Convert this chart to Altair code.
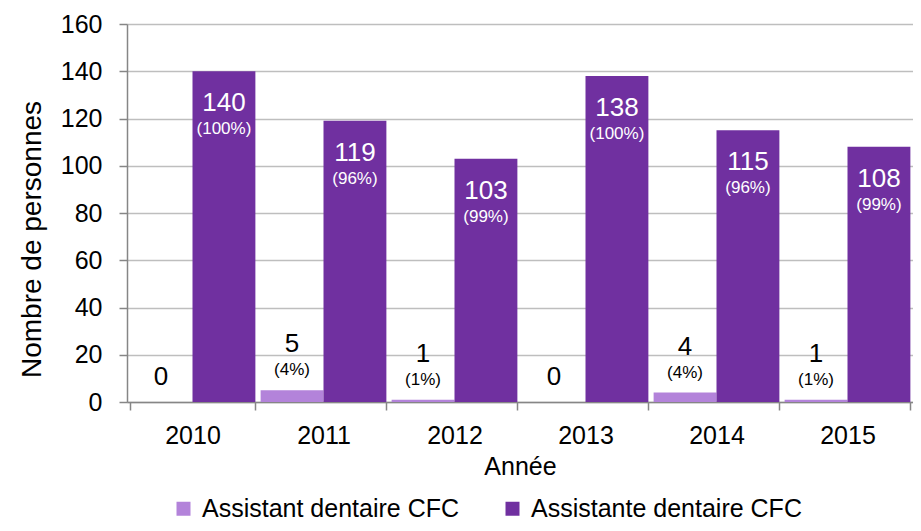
import altair as alt
import pandas as pd

years = ["2010", "2011", "2012", "2013", "2014", "2015"]
series_names = ["Assistant dentaire CFC", "Assistante dentaire CFC"]
assistant = [0, 5, 1, 0, 4, 1]
assistante = [140, 119, 103, 138, 115, 108]
assistant_pct = ["", "(4%)", "(1%)", "", "(4%)", "(1%)"]
assistante_pct = ["(100%)", "(96%)", "(99%)", "(100%)", "(96%)", "(99%)"]
colors = ["#B383DA", "#7030A0"]

rows = []
for i, y in enumerate(years):
    rows.append({"year": y, "series": series_names[0], "value": assistant[i], "pct": assistant_pct[i], "s": 0})
    rows.append({"year": y, "series": series_names[1], "value": assistante[i], "pct": assistante_pct[i], "s": 1})
df = pd.DataFrame(rows)

FONT = "Liberation Sans"

x_enc = alt.X(
    "year:N",
    title="Année",
    scale=alt.Scale(paddingInner=0.04, paddingOuter=0.02),
    axis=alt.Axis(
        labelAngle=0, labelFontSize=25, titleFontSize=25, titleFontWeight="normal",
        labelColor="black", titleColor="black", labelFont=FONT, titleFont=FONT,
        tickBand="extent", tickSize=8, tickColor="#868686", tickWidth=1.5,
        domainColor="#868686", domainWidth=1.5, labelPadding=13, titlePadding=6,
        grid=False,
    ),
)
xoff = alt.XOffset("series:N", sort=series_names, scale=alt.Scale(paddingInner=0, paddingOuter=0))
y_enc = alt.Y(
    "value:Q",
    title="Nombre de personnes",
    scale=alt.Scale(domain=[0, 160], nice=False),
    axis=alt.Axis(
        values=[0, 20, 40, 60, 80, 100, 120, 140, 160],
        labelFontSize=25, titleFontSize=28, titleFontWeight="normal",
        labelColor="black", titleColor="black", labelFont=FONT, titleFont=FONT,
        tickSize=8, tickColor="#868686", tickWidth=1.5,
        domainColor="#868686", domainWidth=1.5, labelPadding=17, titlePadding=14,
        titleY=215,
        gridColor="#BEBEBE", gridWidth=1.5,
    ),
)

bars = alt.Chart(df).mark_bar().encode(
    x=x_enc,
    xOffset=xoff,
    y=y_enc,
    color=alt.Color(
        "series:N",
        sort=series_names,
        scale=alt.Scale(domain=series_names, range=colors),
        legend=alt.Legend(
            title=None, orient="none", direction="horizontal",
            legendX=44, legendY=472,
            symbolType="square", symbolSize=196, symbolStrokeWidth=0,
            labelFontSize=25, labelFont=FONT, labelColor="black",
            labelOffset=6, columnPadding=40, labelLimit=400,
        ),
    ),
)

base = alt.Chart(df).encode(x=alt.X("year:N"), xOffset=xoff, y=alt.Y("value:Q"))

dark = base.transform_filter(alt.datum.s == 1)
dark_val = dark.mark_text(font=FONT, fontSize=26, color="white", baseline="middle", dy=32).encode(text="value:Q")
dark_pct = dark.mark_text(font=FONT, fontSize=17, color="white", baseline="middle", dy=58).encode(text="pct:N")

light = base.transform_filter((alt.datum.s == 0) & (alt.datum.value > 0))
light_val = light.mark_text(font=FONT, fontSize=26, color="black", baseline="middle", dy=-46).encode(text="value:Q")
light_pct = light.mark_text(font=FONT, fontSize=17, color="black", baseline="middle", dy=-20).encode(text="pct:N")

zero = base.transform_filter((alt.datum.s == 0) & (alt.datum.value == 0))
zero_val = zero.mark_text(font=FONT, fontSize=26, color="black", baseline="middle", dy=-25).encode(text="value:Q")

chart = alt.layer(bars, dark_val, dark_pct, light_val, light_pct, zero_val).properties(
    width=786,
    height=378,
    autosize=alt.AutoSizeParams(type="none"),
    padding={"left": 119, "top": 16, "right": 0, "bottom": 121},
).configure_view(fill="#EBDEF4", stroke=None).configure(background="white")

chart.save("out.html", embed_options={"renderer": "svg", "actions": False})
